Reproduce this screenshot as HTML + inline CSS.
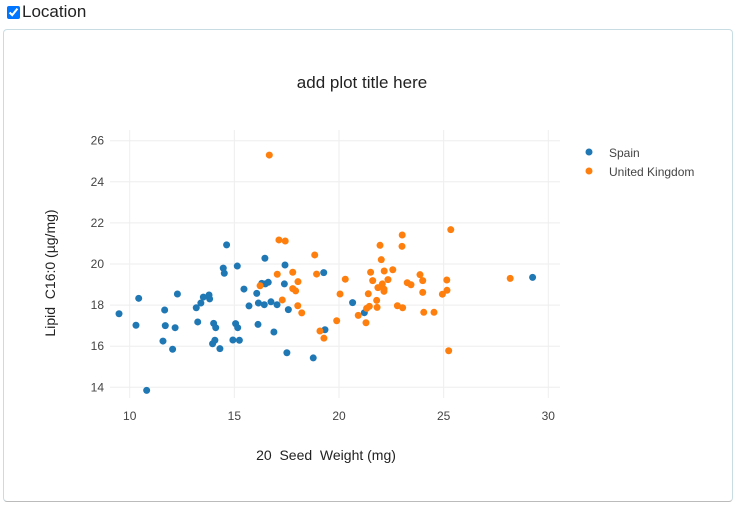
<!DOCTYPE html>
<html><head><meta charset="utf-8"><style>
body{margin:0;width:734px;height:510px;background:#fff;font-family:"Liberation Sans",sans-serif;position:relative;overflow:hidden}
#hdr{position:absolute;left:7px;top:2px;font-size:17px;color:#222;display:flex;align-items:center}
#hdr input{margin:0 2px 0 0;width:13px;height:13px}
#panel{position:absolute;left:3px;top:29px;width:728px;height:471px;border:1px solid #c8dde3;border-bottom-color:#bbb;border-radius:4px}
svg{position:absolute;left:0;top:0}
svg text{white-space:pre}
</style></head><body>
<div id="hdr"><input type="checkbox" checked><span>Location</span></div>
<div id="panel"></div>
<svg id="chart" width="734" height="510"></svg>
<script>
const xTicks=[10,15,20,25,30];
const yTicks=[14,16,18,20,22,24,26];
const seriesNames=["Spain","United Kingdom"];
const seriesColors=["#1f77b4","#ff7f0e"];
const spainX=[9.49,10.30,10.43,10.81,11.67,11.70,11.59,12.17,12.05,12.28,13.18,13.25,13.40,13.52,13.79,13.82,14.01,14.11,13.96,14.07,14.31,14.47,14.52,14.63,14.93,15.06,15.16,15.24,15.14,15.46,15.70,16.07,16.13,16.15,16.43,16.46,16.31,16.48,16.62,16.75,16.89,17.04,17.39,17.42,17.58,17.51,18.77,19.27,19.33,20.65,21.21,29.25];
const spainY=[17.58,17.02,18.33,13.85,17.76,17.00,16.25,16.90,15.85,18.54,17.87,17.18,18.10,18.39,18.49,18.30,17.11,16.90,16.12,16.29,15.88,19.80,19.55,20.93,16.30,17.10,16.90,16.29,19.90,18.78,17.96,18.57,17.06,18.10,18.02,20.28,19.06,19.03,19.11,18.16,16.69,18.02,19.03,19.95,17.78,15.68,15.43,19.58,16.80,18.12,17.63,19.35];
const ukX=[16.67,17.13,17.43,16.23,17.05,17.29,17.79,18.04,17.79,17.93,18.03,18.22,18.84,18.93,19.09,19.28,19.89,20.05,20.30,20.92,21.29,21.32,21.45,21.40,21.51,21.61,21.82,21.80,21.86,22.07,22.15,22.15,22.02,21.96,22.16,22.34,22.57,22.79,23.04,23.01,23.02,23.26,23.44,23.87,24.00,24.00,24.05,24.54,24.94,25.15,25.16,25.24,25.34,28.18];
const ukY=[25.30,21.17,21.12,18.94,19.50,18.25,19.60,19.14,18.80,18.69,17.97,17.62,20.44,19.51,16.74,16.39,17.24,18.54,19.26,17.50,17.14,17.84,17.94,18.55,19.60,19.19,17.89,18.23,18.85,19.03,18.78,18.67,20.21,20.91,19.66,19.24,19.72,17.97,17.87,20.86,21.41,19.09,18.99,19.48,19.19,18.62,17.65,17.65,18.53,19.22,18.72,15.78,21.67,19.30];
const xs=v=>129.7+20.93*(v-10);
const ys=v=>140.7+20.55*(26-v);
const svg=document.getElementById('chart');
const NS='http://www.w3.org/2000/svg';
function mk(t,a){const e=document.createElementNS(NS,t);for(const k in a)e.setAttribute(k,a[k]);svg.appendChild(e);return e;}
xTicks.forEach(t=>{const l=mk('line',{x1:xs(t),x2:xs(t),y1:130,y2:398,stroke:'#eee'});


const tx=mk('text',{x:xs(t),y:420,'text-anchor':'middle','font-size':12,fill:'#444'});tx.textContent=t;

});
yTicks.forEach(t=>{const l=mk('line',{x1:110,x2:560,y1:ys(t),y2:ys(t),stroke:'#eee'});


const tx=mk('text',{x:104,y:ys(t)+4,'text-anchor':'end','font-size':12,fill:'#444'});tx.textContent=t;

});
[[spainX,spainY],[ukX,ukY]].forEach((s,i)=>{s[0].forEach((x,j)=>{const c=mk('circle',{cx:xs(x),cy:ys(s[1][j]),r:3.5,fill:seriesColors[i]});

});
const lc=mk('circle',{cx:589,cy:152+i*19,r:3.5,fill:seriesColors[i]});


const lt=mk('text',{x:609,y:157+i*19,'font-size':12,fill:'#444'});lt.textContent=seriesNames[i];

});
const tt=mk('text',{x:362,y:88,'text-anchor':'middle','font-size':17,fill:'#222'});tt.textContent='add plot title here';


const xt=mk('text',{x:326,y:460,'text-anchor':'middle','font-size':14,fill:'#222'});xt.textContent='20  Seed  Weight (mg)';


const yt=mk('text',{x:0,y:0,'text-anchor':'middle','font-size':14,fill:'#222',transform:'translate(55,273) rotate(-90)'});yt.textContent='Lipid  C16:0 (µg/mg)';


</script>
</body></html>
